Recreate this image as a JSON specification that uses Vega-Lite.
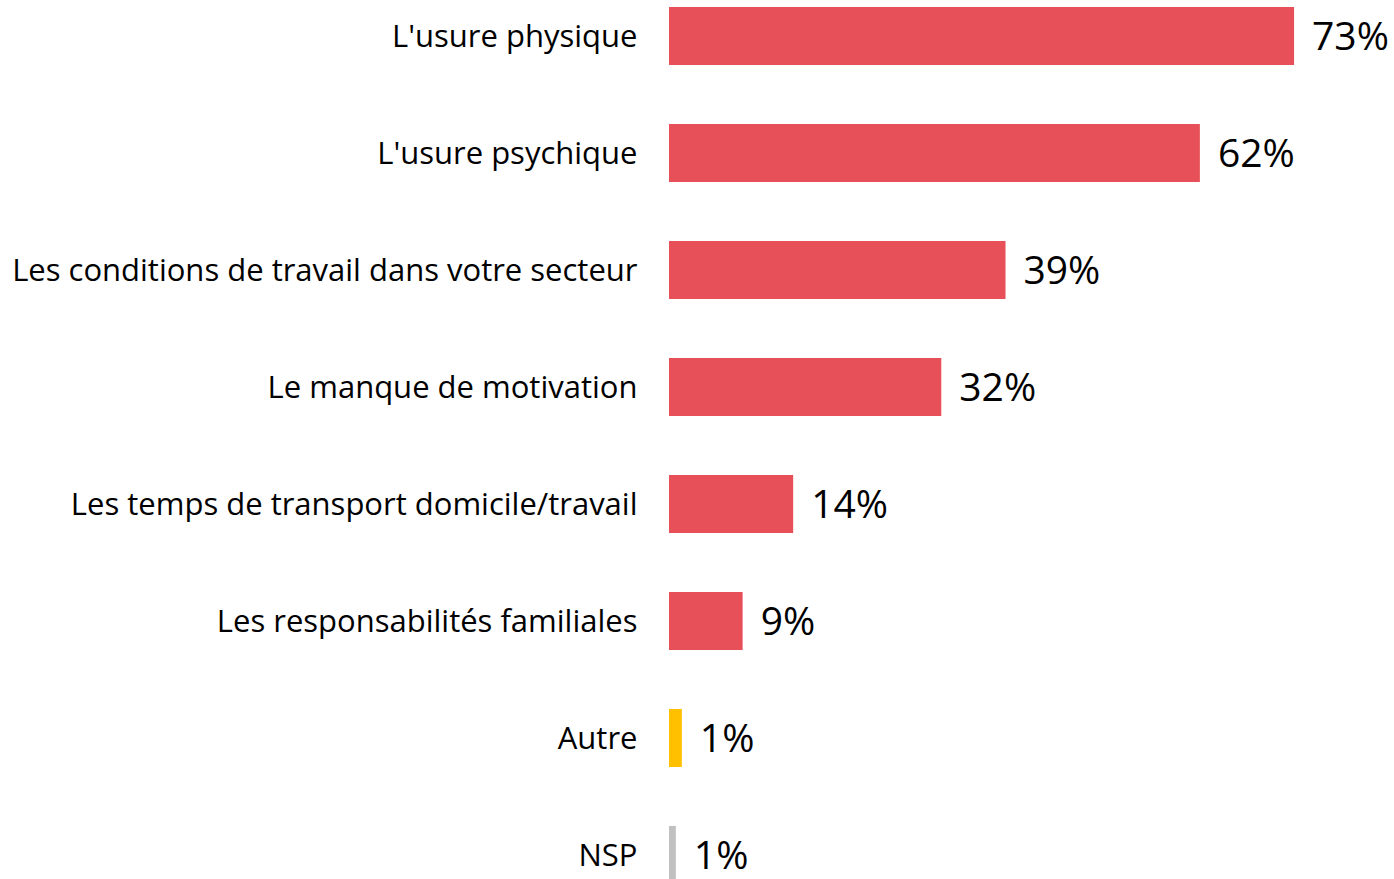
{
  "$schema": "https://vega.github.io/schema/vega-lite/v6.json",
  "autosize": {"type": "none"},
  "padding": {"left": 669, "top": 0, "right": 40, "bottom": 0},
  "width": 685,
  "height": 891,
  "background": "white",
  "config": {"view": {"stroke": null}, "font": "Open Sans"},
  "data": {
    "values": [
      {"item": "L'usure physique", "value": 73, "label": "73%", "group": "main"},
      {"item": "L'usure psychique", "value": 62, "label": "62%", "group": "main"},
      {"item": "Les conditions de travail dans votre secteur", "value": 39.3, "label": "39%", "group": "main"},
      {"item": "Le manque de motivation", "value": 31.8, "label": "32%", "group": "main"},
      {"item": "Les temps de transport domicile/travail", "value": 14.5, "label": "14%", "group": "main"},
      {"item": "Les responsabilités familiales", "value": 8.6, "label": "9%", "group": "main"},
      {"item": "Autre", "value": 1.5, "label": "1%", "group": "autre"},
      {"item": "NSP", "value": 0.8, "label": "1%", "group": "nsp"}
    ]
  },
  "encoding": {
    "y": {
      "field": "item",
      "type": "nominal",
      "sort": null,
      "scale": {"paddingInner": 0.504, "paddingOuter": 0.06},
      "axis": {
        "title": null,
        "domain": false,
        "ticks": false,
        "grid": false,
        "labelPadding": 32,
        "labelOffset": 2,
        "labelFontSize": 31,
        "labelColor": "#000000",
        "labelLimit": 0,
        "labelFont": "Open Sans"
      }
    },
    "x": {
      "field": "value",
      "type": "quantitative",
      "scale": {"domain": [0, 80], "nice": false, "zero": true},
      "axis": null
    }
  },
  "layer": [
    {
      "mark": {"type": "bar"},
      "encoding": {
        "color": {
          "field": "group",
          "type": "nominal",
          "scale": {"domain": ["main", "autre", "nsp"], "range": ["#E75058", "#FFC000", "#C0C0C0"]},
          "legend": null
        }
      }
    },
    {
      "mark": {"type": "text", "align": "left", "baseline": "middle", "dx": 18, "dy": 2, "fontSize": 39, "color": "#000000", "font": "Open Sans"},
      "encoding": {"text": {"field": "label", "type": "nominal"}}
    }
  ]
}
